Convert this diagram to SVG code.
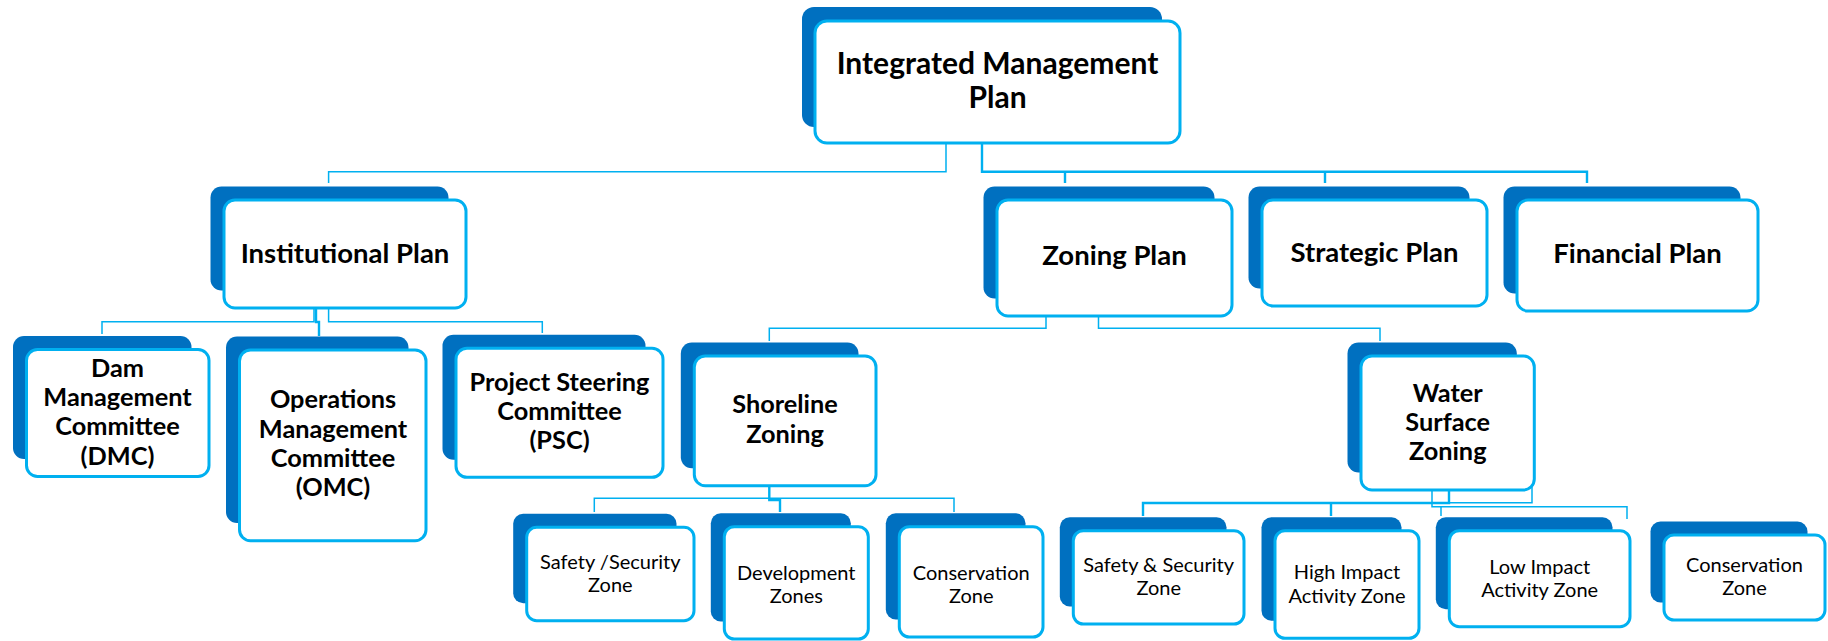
<svg xmlns="http://www.w3.org/2000/svg" width="1828" height="641" viewBox="0 0 1828 641">
<style>
.back{fill:#0070C0}
.front{fill:#ffffff;stroke:#00B0F0;stroke-width:3}
.conn{fill:none;stroke:#00B0F0;stroke-width:1.5}
.thick{stroke-width:2.4}
text{font-family:Lato,"Liberation Sans",sans-serif;fill:#000;text-anchor:middle}
.t0{font-size:30px;font-weight:bold}
.t1{font-size:27.5px;font-weight:bold}
.t2{font-size:25.3px;font-weight:bold}
.t3{font-size:20px}
</style>
<rect width="1828" height="641" fill="#fff"/>
<g id="connectors">
<path class="conn" d="M946,143 V171.7 H328.6 V183"/>
<path class="conn thick" d="M982,143 V171.7 H1587 V183 M1065,171.7 V183 M1325,171.7 V183"/>
<path class="conn" d="M314,308 V321.7 H102 V334"/>
<path class="conn thick" d="M316,308 V322 H319 V336"/>
<path class="conn" d="M328.6,308 V321.7 H542.3 V333"/>
<path class="conn" d="M1046,316 V328.3 H769.3 V341"/>
<path class="conn" d="M1098.5,316 V328.3 H1380 V341"/>
<path class="conn" d="M769.3,498.3 H594.3 V512 M769.3,498.3 H954 V512"/>
<path class="conn thick" d="M769.3,486 V500 H780 V512"/>
<path class="conn thick" d="M1449,490 V503 H1143 V516 M1331,503 V516"/>
<path class="conn" d="M1432,490 V506.7 H1627 V519 M1441,506.7 V516 M1532,487 V502.7 H1449"/>
</g>
<g id="imp">
<rect class="back" x="802" y="7" width="360" height="120" rx="12"/>
<rect class="front" x="815" y="21" width="365" height="122" rx="12"/>
<text class="t0" x="997.5" y="74">Integrated Management</text>
<text class="t0" x="997.5" y="108.3">Plan</text>
</g>
<g id="institutional">
<rect class="back" x="210.5" y="186.5" width="238" height="104" rx="11"/>
<rect class="front" x="224" y="200" width="242" height="108" rx="11"/>
<text class="t1" x="345" y="262.7">Institutional Plan</text>
</g>
<g id="zoning">
<rect class="back" x="983.5" y="186.5" width="231" height="112" rx="11"/>
<rect class="front" x="997" y="200" width="235" height="116" rx="11"/>
<text class="t1" x="1114.5" y="265">Zoning Plan</text>
</g>
<g id="strategic">
<rect class="back" x="1248.5" y="186.5" width="221" height="102" rx="11"/>
<rect class="front" x="1262" y="200" width="225" height="106" rx="11"/>
<text class="t1" x="1374.5" y="261.7">Strategic Plan</text>
</g>
<g id="financial">
<rect class="back" x="1503.5" y="186.5" width="237" height="107" rx="11"/>
<rect class="front" x="1517" y="200" width="241" height="111" rx="11"/>
<text class="t1" x="1637.5" y="263.3">Financial Plan</text>
</g>
<g id="dmc">
<rect class="back" x="13" y="336" width="178.5" height="123" rx="11"/>
<rect class="front" x="26.5" y="349.5" width="182.5" height="127" rx="11"/>
<text class="t2" x="117.5" y="376.7">Dam</text>
<text class="t2" x="117.5" y="406">Management</text>
<text class="t2" x="117.5" y="435.3">Committee</text>
<text class="t2" x="117.5" y="464.6">(DMC)</text>
</g>
<g id="omc">
<rect class="back" x="226" y="336.5" width="182.5" height="186.5" rx="11"/>
<rect class="front" x="239.5" y="350" width="186.5" height="190.7" rx="11"/>
<text class="t2" x="333" y="408.3">Operations</text>
<text class="t2" x="333" y="437.6">Management</text>
<text class="t2" x="333" y="466.9">Committee</text>
<text class="t2" x="333" y="496.2">(OMC)</text>
</g>
<g id="psc">
<rect class="back" x="442.5" y="334.8" width="203" height="125" rx="11"/>
<rect class="front" x="456" y="348.3" width="207" height="129" rx="11"/>
<text class="t2" x="559.5" y="390.7">Project Steering</text>
<text class="t2" x="559.5" y="420">Committee</text>
<text class="t2" x="559.5" y="449.3">(PSC)</text>
</g>
<g id="shoreline">
<rect class="back" x="680.8" y="342.5" width="177.7" height="125.7" rx="11"/>
<rect class="front" x="694.3" y="356" width="181.7" height="129.7" rx="11"/>
<text class="t2" x="785" y="413.3">Shoreline</text>
<text class="t2" x="785" y="442.7">Zoning</text>
</g>
<g id="water">
<rect class="back" x="1347.5" y="342.5" width="169.3" height="130" rx="11"/>
<rect class="front" x="1361" y="356" width="173.3" height="134" rx="11"/>
<text class="t2" x="1447.7" y="401.5">Water</text>
<text class="t2" x="1447.7" y="430.5">Surface</text>
<text class="t2" x="1447.7" y="459.5">Zoning</text>
</g>
<g id="safety-security">
<rect class="back" x="513.2" y="513.8" width="163.3" height="89.4" rx="10"/>
<rect class="front" x="526.7" y="527.3" width="167.3" height="93.4" rx="10"/>
<text class="t3" x="610.3" y="569">Safety /Security</text>
<text class="t3" x="610.3" y="591.7">Zone</text>
</g>
<g id="development">
<rect class="back" x="710.8" y="513.2" width="140" height="108.3" rx="10"/>
<rect class="front" x="724.3" y="526.7" width="144" height="112.3" rx="10"/>
<text class="t3" x="796.3" y="580">Development</text>
<text class="t3" x="796.3" y="602.7">Zones</text>
</g>
<g id="conservation-shore">
<rect class="back" x="885.8" y="513.2" width="139.7" height="106.3" rx="10"/>
<rect class="front" x="899.3" y="526.7" width="143.7" height="110.3" rx="10"/>
<text class="t3" x="971.2" y="580">Conservation</text>
<text class="t3" x="971.2" y="602.7">Zone</text>
</g>
<g id="safety-security-water">
<rect class="back" x="1059.8" y="517.2" width="166.7" height="89.3" rx="10"/>
<rect class="front" x="1073.3" y="530.7" width="170.7" height="93.3" rx="10"/>
<text class="t3" x="1158.7" y="571.7">Safety &amp; Security</text>
<text class="t3" x="1158.7" y="595">Zone</text>
</g>
<g id="high-impact">
<rect class="back" x="1261.5" y="517.2" width="140" height="103.6" rx="10"/>
<rect class="front" x="1275" y="530.7" width="144" height="107.6" rx="10"/>
<text class="t3" x="1347" y="579.3">High Impact</text>
<text class="t3" x="1347" y="602.7">Activity Zone</text>
</g>
<g id="low-impact">
<rect class="back" x="1435.8" y="517.2" width="176.7" height="92" rx="10"/>
<rect class="front" x="1449.3" y="530.7" width="180.7" height="96" rx="10"/>
<text class="t3" x="1539.7" y="574">Low Impact</text>
<text class="t3" x="1539.7" y="596.7">Activity Zone</text>
</g>
<g id="conservation-water">
<rect class="back" x="1650.5" y="521.5" width="157" height="81" rx="10"/>
<rect class="front" x="1664" y="535" width="161" height="85" rx="10"/>
<text class="t3" x="1744.5" y="571.7">Conservation</text>
<text class="t3" x="1744.5" y="595">Zone</text>
</g>
</svg>
